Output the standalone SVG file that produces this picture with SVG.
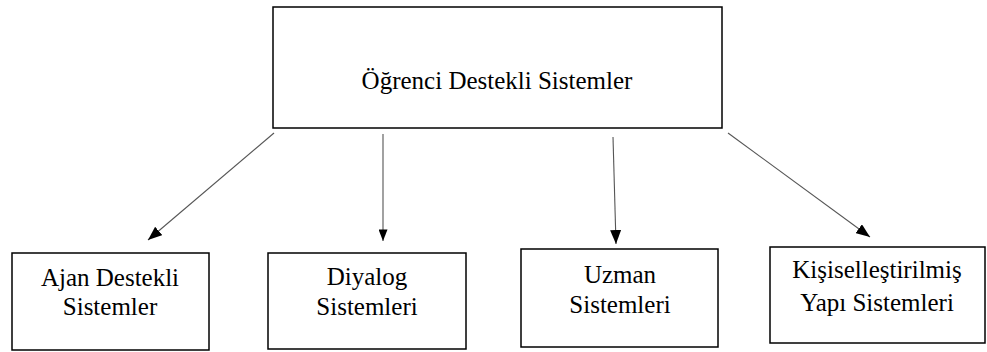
<svg xmlns="http://www.w3.org/2000/svg" width="987" height="352" viewBox="0 0 987 352">
<style>
.box{fill:#fff;stroke:#000;stroke-width:1.5}
.t{fill:#000;text-anchor:middle;font-size:25px}
.c{stroke:#555;stroke-width:1.1;fill:none}
</style>
<defs>
<marker id="ah" viewBox="0 0 14 11" refX="14" refY="5.5" markerWidth="14" markerHeight="11" markerUnits="userSpaceOnUse" orient="auto">
<path d="M0,0 L14,5.5 L0,11 Z" fill="#000"/>
</marker>
<marker id="ahs" viewBox="0 0 14 11" refX="14" refY="5.5" markerWidth="13" markerHeight="9" markerUnits="userSpaceOnUse" orient="auto">
<path d="M0,0 L14,5.5 L0,11 Z" fill="#000"/>
</marker>
</defs>
<rect width="987" height="352" fill="#fff"/>
<g font-family="'Liberation Serif', 'DejaVu Serif', serif">
<g id="root">
<rect class="box" x="273" y="7" width="449" height="121"/>
<text class="t" x="497" y="89">Öğrenci Destekli Sistemler</text>
</g>
<g id="ajan">
<rect class="box" x="12" y="253" width="197" height="97"/>
<text class="t" x="110" y="286">Ajan Destekli</text>
<text class="t" x="110" y="315">Sistemler</text>
</g>
<g id="diyalog">
<rect class="box" x="268" y="253" width="198" height="96"/>
<text class="t" x="367" y="285">Diyalog</text>
<text class="t" x="367" y="315">Sistemleri</text>
</g>
<g id="uzman">
<rect class="box" x="521" y="249" width="197" height="98"/>
<text class="t" x="620" y="283">Uzman</text>
<text class="t" x="620" y="313">Sistemleri</text>
</g>
<g id="kisisel">
<rect class="box" x="770" y="247" width="215" height="96"/>
<text class="t" x="877" y="278">Kişiselleştirilmiş</text>
<text class="t" x="877" y="311">Yapı Sistemleri</text>
</g>
</g>
<g id="connectors">
<line class="c" x1="274" y1="133" x2="148" y2="240" marker-end="url(#ah)"/>
<line class="c" x1="383" y1="134" x2="383" y2="241" marker-end="url(#ahs)"/>
<line class="c" x1="613" y1="137" x2="616" y2="244" marker-end="url(#ah)"/>
<line class="c" x1="728" y1="133" x2="870" y2="237" marker-end="url(#ah)"/>
</g>
</svg>
